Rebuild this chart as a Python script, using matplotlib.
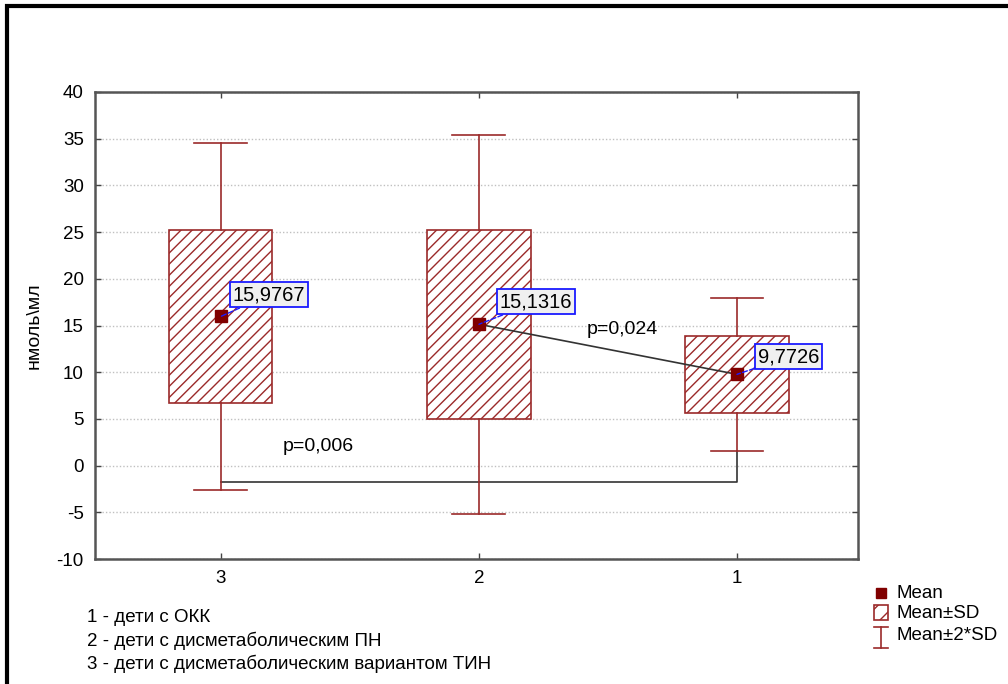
import numpy as np
import matplotlib
matplotlib.use("Agg")
from matplotlib import pyplot as plt
from matplotlib.patches import Rectangle

plt.rcParams['font.family'] = ['Liberation Sans', 'DejaVu Sans']
plt.rcParams['hatch.linewidth'] = 1.0
plt.rcParams['axes.unicode_minus'] = False

# группы и статистика (среднее, SD)
groups = ['3', '2', '1']
means = [15.9767, 15.1316, 9.7726]
sds = [9.30, 10.14, 4.10]
mean_labels = ['15,9767', '15,1316', '9,7726']
yticks = [-10, -5, 0, 5, 10, 15, 20, 25, 30, 35, 40]
notes = ['1 - дети с ОКК',
         '2 - дети с дисметаболическим ПН',
         '3 - дети с дисметаболическим вариантом ТИН']
p_low = 'p=0,006'
p_high = 'p=0,024'

red = '#9b2a2a'
dark = '#800000'

fig = plt.figure(figsize=(10.08, 6.84), dpi=100)
ax = fig.add_axes([0.0942, 0.1827, 0.7570, 0.6828])

x = np.arange(len(groups))
bw = 0.4
cw = 0.205
for xi, m, s in zip(x, means, sds):
    ax.add_patch(Rectangle((xi - bw / 2, m - s), bw, 2 * s, facecolor='white',
                           edgecolor=red, hatch='///', lw=1.2, zorder=2))
    # усы Mean±2*SD
    ax.plot([xi, xi], [m + s, m + 2 * s], color=red, lw=1.2, zorder=2)
    ax.plot([xi, xi], [m - s, m - 2 * s], color=red, lw=1.2, zorder=2)
    ax.plot([xi - cw / 2, xi + cw / 2], [m + 2 * s] * 2, color=red, lw=1.2, zorder=2)
    ax.plot([xi - cw / 2, xi + cw / 2], [m - 2 * s] * 2, color=red, lw=1.2, zorder=2)

# линии сравнения
ax.plot([x[1], x[2]], [means[1], means[2]], color='#333333', lw=1.2, zorder=3)
ybr = -1.8
ax.plot([x[0], x[2], x[2]], [ybr, ybr, means[2] - 2 * sds[2]], color='#333333', lw=1.2, zorder=1)
ax.text(0.376, 2.0, p_low, ha='center', va='center', fontsize=14)
ax.text(1.554, 14.6, p_high, ha='center', va='center', fontsize=14)

ax.plot(x, means, 's', color=dark, ms=8, zorder=5, linestyle='none')
offsets = [(12, 12), (21, 13), (21, 8)]
for xi, m, lab, off in zip(x, means, mean_labels, offsets):
    ax.annotate(lab, (xi, m), xytext=off, textcoords='offset pixels',
                ha='left', va='bottom', fontsize=14.5, zorder=6,
                bbox=dict(boxstyle='square,pad=0.15', fc='#f0f0f0', ec='#1a1aff', lw=1.3),
                arrowprops=dict(arrowstyle='-', linestyle='--', color='#1a1aff', lw=1.0,
                                shrinkA=0, shrinkB=0))

ax.set_xlim(-0.488, 2.469)
ax.set_ylim(-10, 40)
ax.set_xticks(x)
ax.set_xticklabels(groups)
ax.set_yticks(yticks)
ax.tick_params(direction='in', length=4, width=1, top=True, right=True,
               labelsize=13.5, colors='#444444', labelcolor='black', pad=8)
ax.yaxis.grid(True, linestyle=(0, (1, 1.5)), color='#c0c0c0', lw=1)
ax.set_axisbelow(True)
for sp in ax.spines.values():
    sp.set_color('#555555')
    sp.set_linewidth(1.8)
ax.set_ylabel('нмоль\\мл', fontsize=14, labelpad=10)

# подписи групп
for i, t in enumerate(notes):
    fig.text(87 / 1008, 1 - (618 + 23 * i) / 684, t, fontsize=13.5, va='center', ha='left')

# легенда
lax = fig.add_axes([0, 0, 1, 1], facecolor='none')
lax.set_xlim(0, 1008)
lax.set_ylim(684, 0)
lax.axis('off')
lax.plot([881], [593], 's', color=dark, ms=7)
lax.add_patch(Rectangle((874, 605), 14, 15, facecolor='white', edgecolor=red,
                        hatch='//', lw=1.2))
lax.plot([881, 881], [627, 648], color=red, lw=1.2)
lax.plot([874, 888], [627, 627], color=red, lw=1.2)
lax.plot([874, 888], [648, 648], color=red, lw=1.2)
for yy, t in zip([593, 614, 636], ['Mean', 'Mean±SD', 'Mean±2*SD']):
    lax.text(896, yy, t, fontsize=13.5, va='center', ha='left')

# рамка окна
lax.plot([7, 7, 1008], [684, 6, 6], color='black', lw=3, solid_joinstyle='miter')

fig.savefig('out.png', dpi=100)
